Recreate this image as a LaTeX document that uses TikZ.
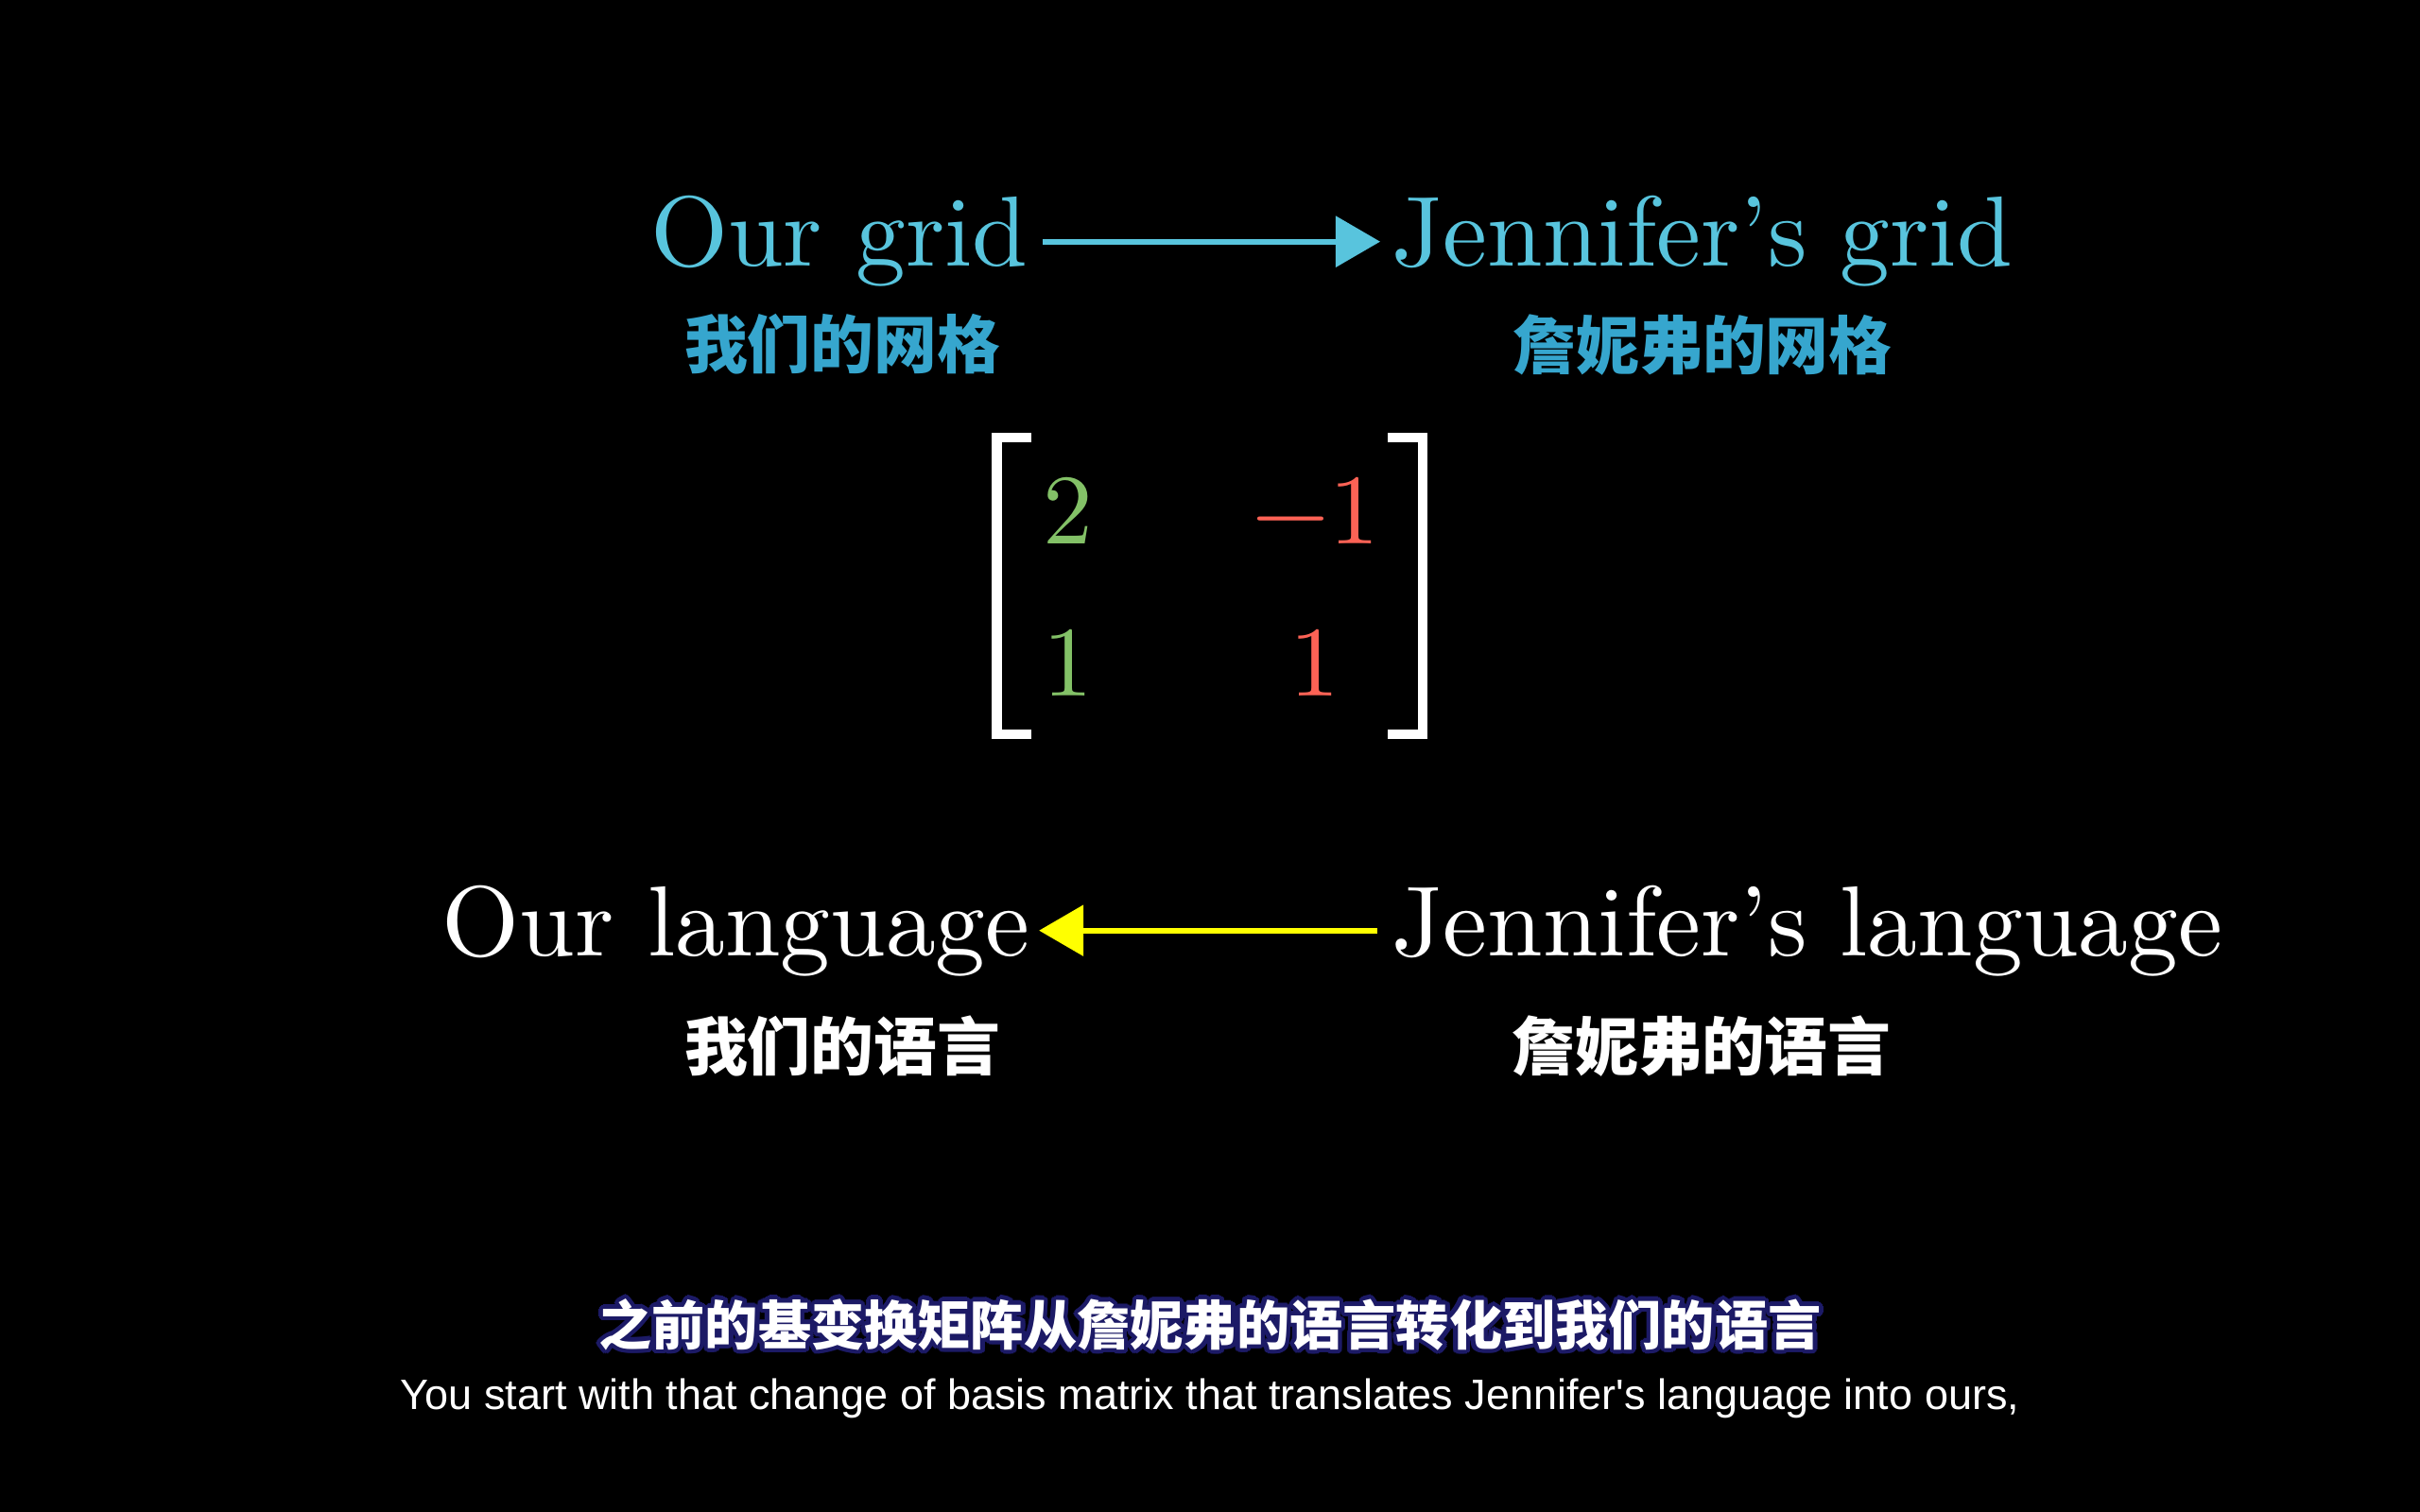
\documentclass[tikz,border=0pt]{standalone}
\usepackage{fontspec}
\usepackage[copies]{contour}
\usetikzlibrary{positioning, calc, arrows.meta}
\newfontfamily\cmten{lmroman10-regular.otf}
\newfontfamily\cjk{Noto Sans CJK SC}
\newfontfamily\subfont{Liberation Sans}
\definecolor{GridBlue}{HTML}{58C4DD}
\definecolor{LabelBlue}{HTML}{36A6CE}
\definecolor{IhatGreen}{HTML}{83C167}
\definecolor{JhatRed}{HTML}{FC6255}
\definecolor{ArrowYellow}{HTML}{FFFF00}
\definecolor{SubNavy}{HTML}{1C1A66}
\contourlength{1.3pt}
\contournumber{16}

\begin{document}
\begin{tikzpicture}[big/.style = {font=\fontsize{30}{36}\cmten, inner sep=0pt},
  zh/.style = {font=\fontsize{19}{23}\cjk\bfseries, inner sep=0pt},
  entry/.style = {font=\fontsize{30}{36}\cmten, inner sep=0pt, anchor=base},
  bracket/.style = {draw=white, line width=2.9pt},
  convarrow/.style = {-{Triangle[length=13.4pt, width=15.1pt]}, line width=1.7pt} ]

\fill[black] (0,0) rectangle (25.6,-16);
\useasboundingbox (0,0) rectangle (25.6,-16);

% Our grid
\node[big, text=GridBlue, anchor=base east] (OurGrid) at (10.88,-2.82) {Our grid};
\node[zh, text=LabelBlue] (OurGridZh) at (8.91,-3.645) {我们的网格};

% Jennifer's grid
\node[big, text=GridBlue, anchor=base west] (JenGrid) at (14.72,-2.82) {Jennifer’s grid};
\node[zh, text=LabelBlue] (JenGridZh) at (18.01,-3.65) {詹妮弗的网格};

%--- Our grid -> Jennifer's grid ---
\draw[convarrow, GridBlue, shorten <=4.3pt, shorten >=3.4pt] (OurGrid.east) -- (JenGrid.west);

% matrix
\node[entry, text=IhatGreen] (m11) at (11.30,-5.76) {2};
\node[entry, text=JhatRed]   (m12) at (13.92,-5.76) {−1};
\node[entry, text=IhatGreen] (m21) at (11.30,-7.37) {1};
\node[entry, text=JhatRed]   (m22) at (13.91,-7.37) {1};
\draw[bracket] (10.91,-4.63) -- (10.545,-4.63) -- (10.545,-7.77) -- (10.91,-7.77);
\draw[bracket] (14.68,-4.63) -- (15.05,-4.63) -- (15.05,-7.77) -- (14.68,-7.77);

% Our language
\node[big, text=white, anchor=base east] (OurLang) at (10.90,-10.11) {Our language};
\node[zh, text=white] (OurLangZh) at (8.91,-11.07) {我们的语言};

% Jennifer's language
\node[big, text=white, anchor=base west] (JenLang) at (14.72,-10.11) {Jennifer’s language};
\node[zh, text=white] (JenLangZh) at (18.00,-11.07) {詹妮弗的语言};

%--- Jennifer's language -> Our language ---
\draw[convarrow, ArrowYellow, shorten <=4.3pt, shorten >=2.6pt] (JenLang.west) -- (OurLang.east);

% subtitles
\node[font=\fontsize{16}{20}\cjk\bfseries, text=white, inner sep=0pt] (SubZh) at (12.80,-14.04) {\contour{SubNavy}{之前的基变换矩阵从詹妮弗的语言转化到我们的语言}};
\node[font=\fontsize{12.8}{15}\subfont, text=white, inner sep=0pt, anchor=base] (SubEn) at (12.80,-14.91) {You start with that change of basis matrix that translates Jennifer\textquotesingle s language into ours,};

\end{tikzpicture}
\end{document}
